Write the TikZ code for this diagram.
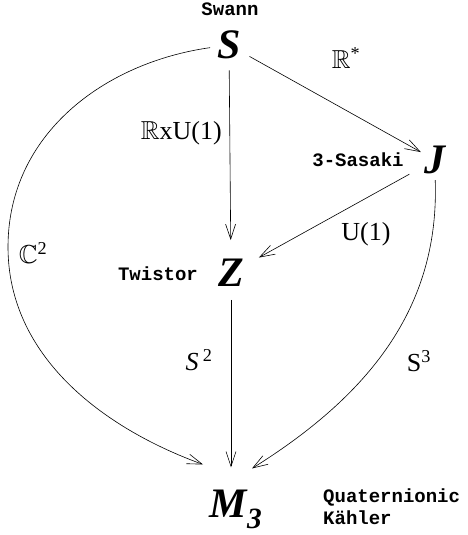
\documentclass[tikz,border=0pt]{standalone}
\usepackage{amssymb}
\usepackage{fontspec}
\setmainfont{Liberation Serif}
\setmonofont{Liberation Mono}
\usetikzlibrary{arrows.meta,calc}

\tikzset{
	arr/.style={-{Straight Barb[length=15pt,width=10pt]}, line width=0.6pt},
	big/.style={inner sep=0pt, font=\fontsize{42}{46}\selectfont\bfseries\itshape},
	tag/.style={inner sep=0pt, font=\fontsize{19}{22}\selectfont\ttfamily\bfseries},
	lab/.style={inner sep=0pt, font=\fontsize{26}{30}\selectfont}
}

\begin{document}
\begin{tikzpicture}[x=1pt,y=1pt]
			\useasboundingbox (0,0) rectangle (467,535);
			\node[big] (S) at (229,490) {S};
			\node[big] (J) at (435,375) {J};
			\node[big] (Z) at (231,262) {Z};
			\node[big] (M) at (236,26) {M\textsubscript{3}};
			\node[tag] (swann) at (230,526) {Swann};
			\node[tag] (sasaki) at (358,375) {3-Sasaki};
			\node[tag] (twistor) at (158,261) {Twistor};
			\node[tag, align=left, anchor=west] (quat) at (323,28) {Quaternionic\\K\"ahler};
			\node[lab] (lRs) at (346,477) {$\mathbb{R}$\textsuperscript{*}};
			\node[lab, anchor=east] (lRU) at (222,402) {$\mathbb{R}$xU(1)};
			\node[lab] (lU) at (366,301) {U(1)};
			\node[lab] (lC) at (33,282) {$\mathbb{C}$\textsuperscript{2}};
			\node[lab] (lS2) at (199,175) {\textit{S}\,\textsuperscript{2}};
			\node[lab] (lS3) at (419,174) {S\textsuperscript{3}};
			\coordinate (bend) at (8,288);
			\draw[arr, shorten <=11pt, shorten >=19pt] (S) -- (Z);
			\draw[arr, shorten <=10pt, shorten >=4pt] (S) -- (J);
			\draw[arr, shorten <=17pt, shorten >=17pt] (J) -- (Z);
			\draw[arr, shorten <=13pt, shorten >=22pt] (Z) -- (Z |- M.north);
			\draw[arr, shorten <=6pt] (J.south) to[out=-88,in=32] ($(M.north)+(16,21)$);
			\draw[arr, shorten <=7pt] (S) to[out=188,in=90,looseness=1.0] (bend) to[out=-90,in=160,looseness=0.95] ($(M.north)+(-33,25)$);
		\end{tikzpicture}
\end{document}
